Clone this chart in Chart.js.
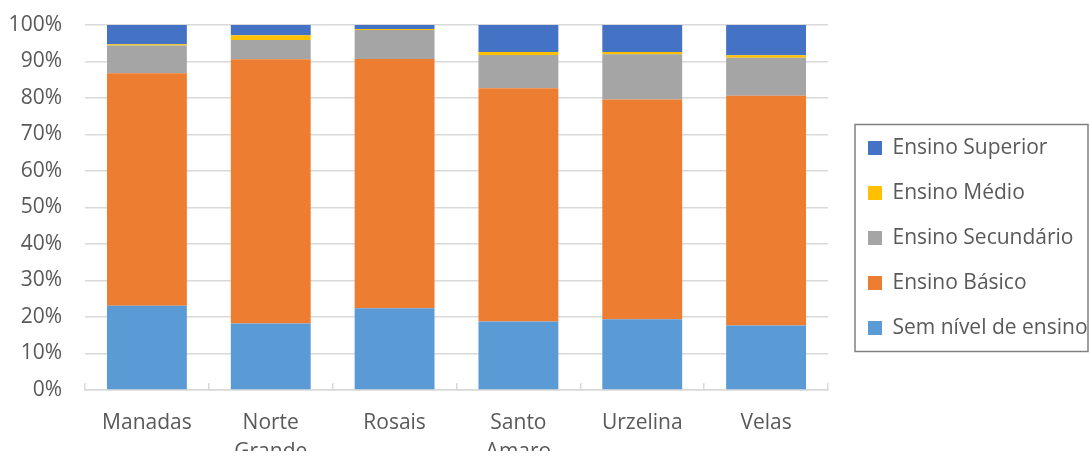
<!DOCTYPE html>
<html>
<head>
<meta charset="utf-8">
<script src="https://cdn.jsdelivr.net/npm/chart.js@4.4.1/dist/chart.umd.min.js"></script>
<style>
  html, body { margin: 0; padding: 0; background: #fff; }
  #wrap { width: 1089px; height: 458px; position: relative; }
</style>
</head>
<body>
<div id="wrap"><canvas id="chart"></canvas></div>
<script>
const categories = ['Manadas', ['Norte', 'Grande'], 'Rosais', ['Santo', 'Amaro'], 'Urzelina', 'Velas'];
const semNivel = [23.1, 18.2, 22.4, 18.8, 19.4, 17.7];
const basico = [63.7, 72.4, 68.3, 63.9, 60.2, 62.9];
const secundario = [7.6, 5.3, 7.9, 9.1, 12.4, 10.4];
const medio = [0.3, 1.3, 0.3, 0.8, 0.6, 0.7];
const superior = [5.3, 2.8, 1.1, 7.4, 7.4, 8.3];

const TEXT = '#595959';
const GRID = '#d9d9d9';
const FONT = { family: '"Open Sans", sans-serif', size: 21 };

// frame around the legend, like the Excel original
const legendFrame = {
    id: 'legendFrame',
    afterDraw: (chart) => {
        const lg = chart.legend;
        if (!lg || !lg.legendHitBoxes.length) return;
        const boxes = lg.legendHitBoxes;
        const left = Math.min(...boxes.map(b => b.left)) - 13;
        const top = Math.min(...boxes.map(b => b.top)) - 13;
        const bottom = Math.max(...boxes.map(b => b.top + b.height)) + 13;
        const right = lg.right - 1;
        const ctx = chart.ctx;
        ctx.save();
        ctx.strokeStyle = '#808080';
        ctx.lineWidth = 1.5;
        ctx.strokeRect(left, top, right - left, bottom - top);
        ctx.restore();
    },
};

const ds = (label, data, color) => ({
    label: label,
    data: data,
    backgroundColor: color,
    borderWidth: 0,
    categoryPercentage: 1,
    barPercentage: 0.645,
});

new Chart(document.getElementById('chart'), {
    type: 'bar',
    data: {
        labels: categories,
        datasets: [
            ds('Sem nível de ensino', semNivel, '#5B9BD5'),
            ds('Ensino Básico', basico, '#ED7D31'),
            ds('Ensino Secundário', secundario, '#A5A5A5'),
            ds('Ensino Médio', medio, '#FFC000'),
            ds('Ensino Superior', superior, '#4472C4'),
        ],
    },
    options: {
        responsive: true,
        maintainAspectRatio: false,
        animation: false,
        layout: { padding: { top: 25, right: 0, bottom: 7, left: 0 } },
        plugins: {
            tooltip: { enabled: false },
            legend: {
                position: 'right',
                reverse: true,
                maxWidth: 245,
                labels: {
                    boxWidth: 14,
                    boxHeight: 14,
                    padding: 24,
                    color: TEXT,
                    font: FONT,
                },
            },
        },
        scales: {
            x: {
                stacked: true,
                grid: {
                    drawOnChartArea: false,
                    drawTicks: true,
                    tickLength: -7,
                    color: GRID,
                    lineWidth: 1.5,
                },
                border: { display: true, color: GRID, width: 1.5 },
                ticks: {
                    color: TEXT,
                    font: { family: FONT.family, size: 21, lineHeight: 1.38 },
                    padding: 26,
                    maxRotation: 0,
                },
                afterFit: (s) => { s.height = 61; },
            },
            y: {
                stacked: true,
                min: 0,
                max: 100,
                grid: { color: GRID, lineWidth: 1.5, drawTicks: false },
                border: { display: false },
                ticks: {
                    stepSize: 10,
                    color: TEXT,
                    font: FONT,
                    padding: 23,
                    callback: (v) => v + '%',
                },
                afterFit: (s) => {
                    s.width = 85;
                    s.paddingTop = 0;
                    s.paddingBottom = 0;
                },
            },
            // empty spacer between plot and legend
            y2: {
                position: 'right',
                display: true,
                grid: { display: false },
                border: { display: false },
                ticks: { display: false },
                afterFit: (s) => { s.width = 16; },
            },
        },
    },
    plugins: [legendFrame],
});
</script>
</body>
</html>
